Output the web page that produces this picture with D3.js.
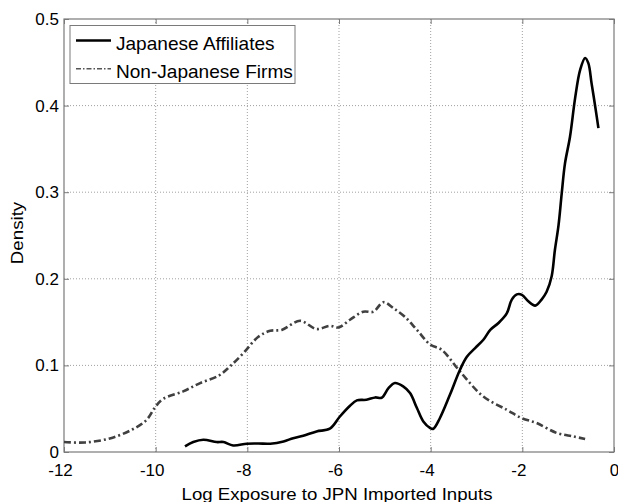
<!DOCTYPE html>
<html>
<head>
<meta charset="utf-8">
<script src="https://cdn.jsdelivr.net/npm/d3@7"></script>
<style>
  html, body { margin: 0; padding: 0; background: #fff; }
  svg { display: block; font-family: "Liberation Sans", Arial, Helvetica, sans-serif; }
</style>
</head>
<body>
<svg id="chart" width="618" height="502"></svg>
<script>
// Kernel density of log exposure to Japanese imported inputs
const xTicks = [-12, -10, -8, -6, -4, -2, 0];
const yTicks = [0, 0.1, 0.2, 0.3, 0.4, 0.5];
const seriesNames = ["Japanese Affiliates", "Non-Japanese Firms"];

const jpX = [-9.36, -9.18, -8.96, -8.67, -8.52, -8.31, -8.01, -7.76, -7.5, -7.21, -7.0, -6.78,
  -6.49, -6.2, -5.98, -5.76, -5.61, -5.40, -5.21, -5.07, -4.92, -4.78, -4.6, -4.45, -4.3,
  -4.16, -4.01, -3.94, -3.80, -3.58, -3.36, -3.21, -3.03, -2.85, -2.70, -2.52, -2.34, -2.23,
  -2.12, -2.01, -1.87, -1.72, -1.58, -1.47, -1.36, -1.29, -1.21, -1.14, -1.07, -0.96, -0.85,
  -0.74, -0.63, -0.56, -0.49, -0.41, -0.34];
const jpY = [0.0065, 0.0115, 0.0142, 0.0115, 0.0115, 0.0076, 0.0096, 0.0098, 0.0096, 0.0122,
  0.016, 0.0188, 0.0238, 0.0269, 0.041, 0.0534, 0.0596, 0.0603, 0.063, 0.0626, 0.0738, 0.0796,
  0.0757, 0.068, 0.0508, 0.0353, 0.0277, 0.0269, 0.039, 0.066, 0.095, 0.110, 0.120, 0.1296,
  0.141, 0.149, 0.160, 0.176, 0.182, 0.1815, 0.174, 0.169, 0.176, 0.185, 0.203, 0.233, 0.262,
  0.299, 0.333, 0.364, 0.408, 0.441, 0.455, 0.449, 0.426, 0.399, 0.374];

const njX = [-12, -11.54, -11.0, -10.52, -10.2, -10.0, -9.83, -9.4, -9.03, -8.63, -8.38, -8.09,
  -7.76, -7.5, -7.25, -6.85, -6.49, -6.2, -6.01, -5.76, -5.47, -5.25, -5.03, -4.81, -4.56,
  -4.3, -4.01, -3.76, -3.36, -2.85, -2.34, -2.01, -1.69, -1.25, -0.89, -0.63];
const njY = [0.0115, 0.011, 0.0157, 0.0257, 0.037, 0.0526, 0.0615, 0.070, 0.0796, 0.088, 0.0988,
  0.114, 0.133, 0.140, 0.141, 0.1515, 0.142, 0.1457, 0.1438, 0.1527, 0.162, 0.162, 0.173, 0.166,
  0.156, 0.141, 0.124, 0.118, 0.093, 0.064, 0.0488, 0.039, 0.0335, 0.022, 0.018, 0.015];

const svg = d3.select("#chart");
const plot = { left: 64, right: 614, top: 19, bottom: 452 };

const x = d3.scaleLinear().domain([-12, 0]).range([plot.left, plot.right]);
const y = d3.scaleLinear().domain([0, 0.5]).range([plot.bottom, plot.top]);

// horizontally widen a text element by a factor
function widen(sel, factor) {
  sel.each(function () {
    const w = this.getComputedTextLength();
    d3.select(this).attr("textLength", w * factor).attr("lengthAdjust", "spacingAndGlyphs");
  });
}

// dotted grid
const grid = svg.append("g");
grid.selectAll(".gx").data(xTicks.slice(1, -1)).join("line")
  .attr("x1", d => x(d)).attr("x2", d => x(d)).attr("y1", plot.top).attr("y2", plot.bottom)
  .attr("stroke", "#a0a0a0").attr("stroke-width", 1).attr("stroke-dasharray", "1,2");
grid.selectAll(".gy").data(yTicks.slice(1, -1)).join("line")
  .attr("y1", d => y(d)).attr("y2", d => y(d)).attr("x1", plot.left).attr("x2", plot.right)
  .attr("stroke", "#a0a0a0").attr("stroke-width", 1).attr("stroke-dasharray", "1,2");

// axes with inward ticks
const axisColor = "#7a7a7a";
function styleAxis(g) {
  g.select(".domain").remove();
  g.selectAll(".tick line").attr("stroke", axisColor);
  g.selectAll(".tick text").attr("fill", "#000").style("font-size", "17px");
}
svg.append("g").attr("transform", `translate(0,${plot.bottom})`)
  .call(d3.axisBottom(x).tickValues(xTicks).tickFormat(d => String(d)).tickSizeInner(-5).tickPadding(12))
  .call(styleAxis)
  .call(g => g.selectAll(".tick text").attr("dx", d => d < 0 ? -4 : 0));
svg.append("g").attr("transform", `translate(0,${plot.top})`)
  .call(d3.axisTop(x).tickValues(xTicks).tickFormat("").tickSizeInner(-5))
  .call(styleAxis);
svg.append("g").attr("transform", `translate(${plot.left},0)`)
  .call(d3.axisLeft(y).tickValues(yTicks).tickFormat(d => d === 0 ? "0" : d3.format(".1f")(d)).tickSizeInner(-5).tickPadding(5))
  .call(styleAxis);
svg.append("g").attr("transform", `translate(${plot.right},0)`)
  .call(d3.axisRight(y).tickValues(yTicks).tickFormat("").tickSizeInner(-5))
  .call(styleAxis);

svg.append("rect").attr("x", plot.left).attr("y", plot.top)
  .attr("width", plot.right - plot.left).attr("height", plot.bottom - plot.top)
  .attr("fill", "none").attr("stroke", axisColor).attr("stroke-width", 1.2);

// density curves
const line = d3.line().x(d => x(d[0])).y(d => y(d[1])).curve(d3.curveCatmullRom);
svg.append("path").datum(d3.zip(njX, njY)).attr("d", line)
  .attr("fill", "none").attr("stroke", "#404040").attr("stroke-width", 2.6)
  .attr("stroke-dasharray", "7,3,2,3");
svg.append("path").datum(d3.zip(jpX, jpY)).attr("d", line)
  .attr("fill", "none").attr("stroke", "#000").attr("stroke-width", 2.6)
  .attr("stroke-linejoin", "round");

// axis titles
svg.append("text").attr("x", 337).attr("y", 500)
  .attr("text-anchor", "middle").style("font-size", "16.5px")
  .text("Log Exposure to JPN Imported Inputs").call(widen, 1.13);
svg.append("text").attr("transform", "translate(22.5,233) rotate(-90)")
  .attr("text-anchor", "middle").style("font-size", "17px").text("Density")
  .call(widen, 1.1);

// legend
const lg = svg.append("g");
lg.append("rect").attr("x", 70).attr("y", 25.5).attr("width", 225).attr("height", 58)
  .attr("fill", "#fff").attr("stroke", axisColor).attr("stroke-width", 1);
const styles = [{ c: "#000", dash: null, w: 2.4 }, { c: "#555", dash: "5,2,1.5,2", w: 1.5 }];
seriesNames.forEach((name, i) => {
  const yy = 40.5 + i * 28.3;
  lg.append("line").attr("x1", 76).attr("x2", 111).attr("y1", yy).attr("y2", yy)
    .attr("stroke", styles[i].c).attr("stroke-width", styles[i].w)
    .attr("stroke-dasharray", styles[i].dash);
  lg.append("text").attr("x", 116).attr("y", yy + 9.6).style("font-size", "18.5px")
    .text(name).call(widen, 1.03);
});
</script>
</body>
</html>
